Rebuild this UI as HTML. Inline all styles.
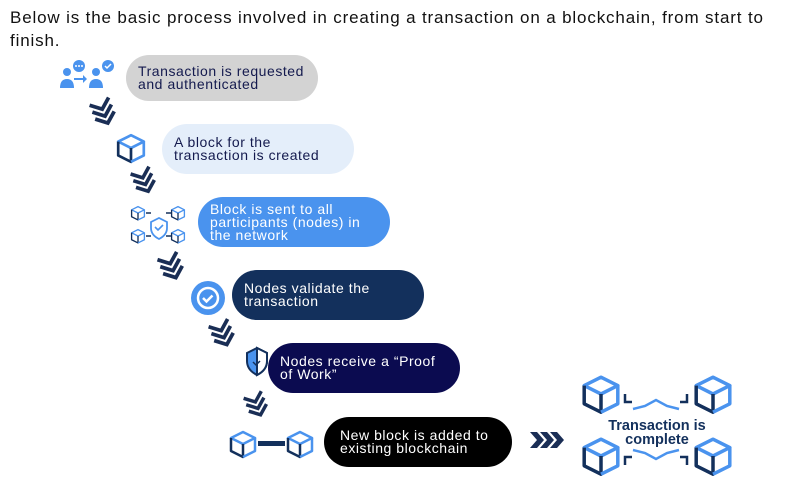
<!DOCTYPE html>
<html><head><meta charset="utf-8"><style>
body{margin:0;background:#fff;width:792px;height:490px;overflow:hidden;position:relative;font-family:"Liberation Sans",sans-serif}
.h{position:absolute;left:10px;top:6px;font-size:17px;letter-spacing:0.85px;line-height:23px;color:#111;width:790px;white-space:nowrap}
.p{position:absolute;border-radius:26px;font-size:14px;letter-spacing:0.55px;line-height:13.5px;padding-left:12px;box-sizing:border-box;display:flex;align-items:center;white-space:nowrap}
</style></head><body>
<div class="h">Below is the basic process involved in creating a transaction on a blockchain, from start to<br>finish.</div>
<div class="p" style="left:126px;top:55px;width:192px;height:46px;background:#d3d3d3;color:#141a4e">Transaction is requested<br>and authenticated</div>
<div class="p" style="left:162px;top:124px;width:192px;height:50px;background:#e4eefa;color:#141a4e">A block for the<br>transaction is created</div>
<div class="p" style="left:198px;top:197px;width:192px;height:50px;background:#4a93ee;color:#fff;line-height:13px">Block is sent to all<br>participants (nodes) in<br>the network</div>
<div class="p" style="left:232px;top:270px;width:192px;height:50px;background:#13305c;color:#fff">Nodes validate the<br>transaction</div>
<div class="p" style="left:268px;top:343px;width:192px;height:50px;background:#0b0b50;color:#fff">Nodes receive a “Proof<br>of Work”</div>
<div class="p" style="left:324px;top:417px;width:188px;height:50px;background:#000;color:#fff;padding-left:16px">New block is added to<br>existing blockchain</div>
<svg width="792" height="490" style="position:absolute;left:0;top:0">
<defs>
<symbol id="cube" viewBox="0 0 30 30" overflow="visible">
<path d="M3 9 L15 3 L27 9 L15 15 Z" fill="none" stroke="#4a93ee" stroke-width="2.5" stroke-linejoin="round"/>
<path d="M3 9 V22 L15 28 V15" fill="none" stroke="#13305c" stroke-width="2.5" stroke-linejoin="round"/>
<path d="M27 9 V22 L15 28" fill="none" stroke="#4a93ee" stroke-width="2.5" stroke-linejoin="round"/>
</symbol>
<symbol id="chev" viewBox="0 0 30 34" overflow="visible">
<g fill="none" stroke="#1a2e55" stroke-width="4" stroke-linejoin="miter" transform="rotate(-22 15 17)">
<polyline points="4,3 15,12 26,3"/>
<polyline points="4,11 15,20 26,11"/>
<polyline points="4,19 15,28 26,19"/>
</g></symbol>
</defs>
<!-- people icon -->
<g fill="#4a93ee">
<circle cx="67" cy="72" r="4"/><path d="M60 88 q0-9 7-9 q7 0 7 9z"/>
<circle cx="96" cy="72" r="4"/><path d="M89 88 q0-9 7-9 q7 0 7 9z"/>
<circle cx="79" cy="66" r="6"/><circle cx="108" cy="66" r="6"/>
<path d="M74 78 h9 v-3 l4 4 l-4 4 v-3 h-9z"/>
</g>
<g fill="#fff"><circle cx="76" cy="66" r="1"/><circle cx="79" cy="66" r="1"/><circle cx="82" cy="66" r="1"/></g>
<path d="M105 66 l2 2 l4-4" stroke="#fff" stroke-width="1.5" fill="none"/>
<use href="#chev" x="90" y="97" width="28" height="33"/>
<use href="#cube" x="115" y="132" width="32" height="32"/>
<use href="#chev" x="131" y="166" width="27" height="32"/>
<!-- network -->
<use href="#cube" x="130" y="205" width="16" height="16"/><use href="#cube" x="170" y="205" width="16" height="16"/>
<use href="#cube" x="130" y="228" width="16" height="16"/><use href="#cube" x="170" y="228" width="16" height="16"/>
<path d="M151 222 l8-4 l8 4 v6 q0 7-8 11 q-8-4-8-11z" fill="none" stroke="#4a93ee" stroke-width="1.8"/>
<path d="M155 227 l3 3 l5-5" stroke="#4a93ee" stroke-width="1.6" fill="none"/>
<path d="M146 213 h5 M166 213 h5 M146 236 h5 M166 236 h5" stroke="#13305c" stroke-width="1.5"/>
<use href="#chev" x="157" y="252" width="30" height="32"/>
<!-- badge -->
<circle cx="208" cy="298" r="17" fill="#4a93ee"/>
<circle cx="208" cy="298" r="10" fill="none" stroke="#fff" stroke-width="2.5"/>
<path d="M203 298 l3.5 3.5 l6-6" stroke="#fff" stroke-width="2.5" fill="none"/>
<use href="#chev" x="209" y="319" width="28" height="32"/>
<!-- shield -->
<path d="M247 353 l10-5 l10 5 v8 q0 9-10 14 q-10-5-10-14z" fill="#4a93ee" stroke="#13305c" stroke-width="2"/>
<path d="M257 348 l10 5 v8 q0 9-10 14z" fill="#fff" stroke="#13305c" stroke-width="2"/>
<path d="M253 362 l3 3 l4-4" stroke="#13305c" stroke-width="1.5" fill="none"/>
<use href="#chev" x="244" y="390" width="26" height="32"/>
<!-- chain -->
<use href="#cube" x="228" y="428" width="30" height="32"/>
<rect x="258" y="441" width="27" height="5" fill="#13305c"/>
<use href="#cube" x="285" y="428" width="30" height="32"/>
<!-- right arrow -->
<g fill="#1a2e55"><path d="M530 432 h7 l7 8 l-7 8 h-7 l7-8z"/><path d="M540 432 h7 l7 8 l-7 8 h-7 l7-8z"/><path d="M550 432 h7 l7 8 l-7 8 h-7 l7-8z"/></g>
<!-- complete -->
<use href="#cube" x="580" y="372" width="42" height="44"/>
<use href="#cube" x="692" y="372" width="42" height="44"/>
<use href="#cube" x="580" y="434" width="42" height="44"/>
<use href="#cube" x="692" y="434" width="42" height="44"/>
<path d="M625 394 v8 h7 M687 394 v8 h-7 M625 465 v-8 h7 M687 465 v-8 h-7" stroke="#13305c" stroke-width="2.5" fill="none"/>
<path d="M633 409 l12-3 l11-6 l11 6 l12 3 M633 450 l12 3 l11 6 l11-6 l12-3" stroke="#4a93ee" stroke-width="2.5" fill="none"/>
<text x="657" y="430" text-anchor="middle" font-family="Liberation Sans" font-weight="bold" font-size="14.5" fill="#13305c">Transaction is</text>
<text x="657" y="444" text-anchor="middle" font-family="Liberation Sans" font-weight="bold" font-size="14.5" fill="#13305c">complete</text>
</svg>
</body></html>
